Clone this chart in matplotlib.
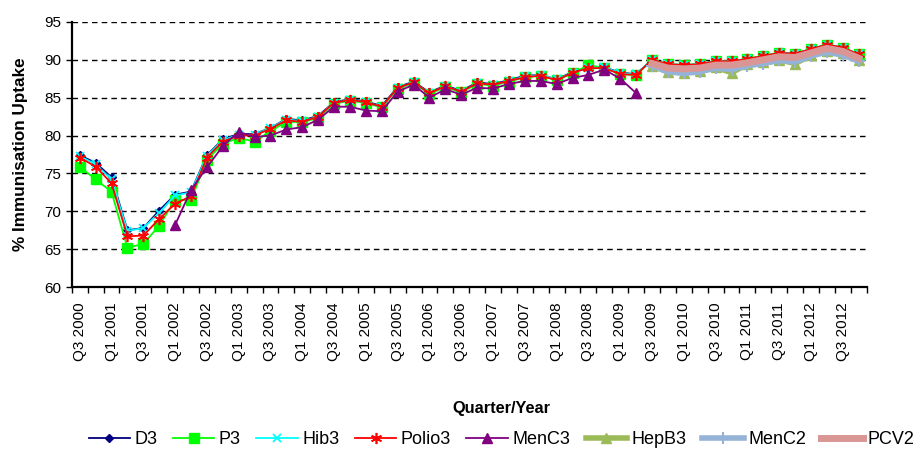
import numpy as np
import matplotlib
matplotlib.use("Agg")
import matplotlib.pyplot as plt
from matplotlib.ticker import FixedLocator, NullFormatter

plt.rcParams['font.family'] = ['Liberation Sans', 'DejaVu Sans']

quarters = []
y, q = 2000, 3
for _ in range(50):
    quarters.append(f"Q{q} {y}")
    q += 1
    if q > 4:
        q = 1
        y += 1

nan = np.nan
d3 = [77.4, 76.4, 74.5, 67.5, 67.8, 70.1, 72.2, 72.6, 77.4, 79.5,
      80.2, 80.2, 81.0, 82.2, 82.0, 82.6, 84.4, 84.8, 84.5, 83.9,
      86.4, 87.1, 85.7, 86.6, 85.9, 87.0, 86.8, 87.3, 87.9, 88.0,
      87.4, 88.4, 88.9, 89.0, 88.3, 88.1, 90.0, 89.4, 89.3, 89.4,
      89.8, 89.8, 90.1, 90.5, 90.9, 90.8, 91.4, 92.0, 91.6, 90.7]
p3 = [75.9, 74.2, 72.6, 65.2, 65.7, 68.1, 71.5, 71.5, 76.8, 78.9,
      79.7, 79.2, 80.6, 81.8, 81.8, 82.3, 84.2, 84.6, 84.3, 83.7,
      86.2, 86.9, 85.5, 86.4, 85.7, 86.8, 86.6, 87.1, 87.7, 87.9,
      87.3, 88.2, 89.3, 88.9, 88.1, 88.0, 90.0, 89.4, 89.3, 89.4,
      89.8, 89.8, 90.1, 90.5, 90.9, 90.8, 91.4, 92.0, 91.6, 90.7]
hib3 = [77.3, 76.2, 74.2, 67.4, 67.8, 69.8, 72.1, 72.5, 77.3, 79.4,
        80.1, 80.1, 81.0, 82.1, 81.9, 82.5, 84.3, 84.7, 84.4, 83.8,
        86.3, 87.0, 85.6, 86.5, 85.8, 86.9, 86.7, 87.2, 87.8, 88.0,
        87.4, 88.3, 88.9, 89.0, 88.2, 88.1, 90.0, 89.4, 89.3, 89.4,
        89.8, 89.8, 90.1, 90.5, 90.9, 90.8, 91.4, 92.0, 91.6, 90.7]
polio3 = [77.1, 75.9, 73.7, 66.7, 66.8, 69.0, 71.0, 72.0, 77.1, 79.2,
          80.0, 80.0, 80.9, 82.0, 81.8, 82.5, 84.3, 84.7, 84.4, 83.8,
          86.3, 87.0, 85.6, 86.5, 85.8, 86.9, 86.7, 87.2, 87.7, 87.9,
          87.3, 88.3, 88.9, 88.9, 88.1, 88.0, 90.0, 89.4, 89.3, 89.4,
          89.8, 89.8, 90.1, 90.5, 90.9, 90.8, 91.4, 92.0, 91.6, 90.7]
menc3 = [nan, nan, nan, nan, nan, nan, 68.2, 72.8, 75.8, 78.6,
         80.5, 79.8, 80.0, 80.8, 81.1, 82.1, 83.8, 83.8, 83.3, 83.2,
         85.8, 86.7, 85.0, 86.1, 85.4, 86.3, 86.2, 86.8, 87.2, 87.2,
         86.8, 87.6, 88.0, 88.7, 87.5, 85.6] + [nan] * 14
hepb3 = [nan] * 36 + [89.2, 88.4, 88.3, 88.5, 89.0, 88.3, 89.4, 89.7, 90.0, 89.5,
                      90.6, 91.2, 90.9, 89.9]
menc2 = [nan] * 36 + [89.2, 88.4, 88.2, 88.4, 88.9, 88.7, 89.2, 89.5, 89.9, 89.7,
                      90.5, 91.0, 90.6, 89.8]
pcv2 = [nan] * 36 + [89.5, 88.9, 88.8, 88.9, 89.3, 89.3, 89.6, 90.0, 90.4, 90.3,
                     90.9, 91.5, 91.1, 90.2]

fig = plt.figure(figsize=(9.2, 4.55), dpi=100)
ax = fig.add_axes([0.078, 0.369, 0.864, 0.583])
x = np.arange(len(quarters))

ax.plot(x, d3, color='#000080', lw=1.3, marker='D', ms=4.5, label='D3', zorder=3)
ax.plot(x, p3, color='#00FF00', lw=1.3, marker='s', ms=6.5, label='P3', zorder=3)
ax.plot(x, hib3, color='#00FFFF', lw=1.3, marker='x', ms=6, mew=1.3, label='Hib3', zorder=3)
ax.plot(x, polio3, color='#FF0000', lw=1.3, marker=(6, 2, 0), ms=8, mew=1.2, label='Polio3', zorder=3)
ax.plot(x, menc3, color='#800080', lw=1.3, marker='^', ms=7.5, label='MenC3', zorder=3)
ax.plot(x, hepb3, color='#9BBB59', lw=4, marker='^', ms=7.5, label='HepB3', zorder=3)
ax.plot(x, menc2, color='#95B3D7', lw=4, marker='+', ms=9, mew=1.5, label='MenC2', zorder=3)
ax.plot(x, pcv2, color='#D99694', lw=5, label='PCV2', zorder=3)

ax.set_xlim(-0.5, len(quarters) - 0.5)
ax.set_ylim(60, 95)
ax.set_yticks(np.arange(60, 96, 5))
ax.yaxis.grid(True, color='black', linestyle=(0, (4, 3)), lw=1.0)
ax.set_axisbelow(True)

ax.set_xticks(x[::2])
ax.set_xticklabels(quarters[::2], rotation=90)
ax.xaxis.set_minor_locator(FixedLocator(np.arange(-0.5, len(quarters), 1)))
ax.xaxis.set_minor_formatter(NullFormatter())
ax.tick_params(axis='x', which='major', length=0, labelsize=11, pad=11)
ax.tick_params(axis='x', which='minor', length=4, width=1, color='black')
ax.tick_params(axis='y', length=4, width=1, labelsize=11)

for s in ['top', 'right']:
    ax.spines[s].set_visible(False)
for s in ['left', 'bottom']:
    ax.spines[s].set_linewidth(1.6)

ax.set_ylabel('% Immunisation Uptake', fontsize=12.3, fontweight='bold', labelpad=12)
fig.text(0.545, 0.103, 'Quarter/Year', fontsize=11.8, fontweight='bold',
         ha='center', va='center')

fig.legend(loc='center', bbox_to_anchor=(0.545, 0.033), ncol=8, frameon=False,
           fontsize=13, handlelength=2.3, columnspacing=0.85, handletextpad=0.25)

fig.savefig('out.png', dpi=100)
